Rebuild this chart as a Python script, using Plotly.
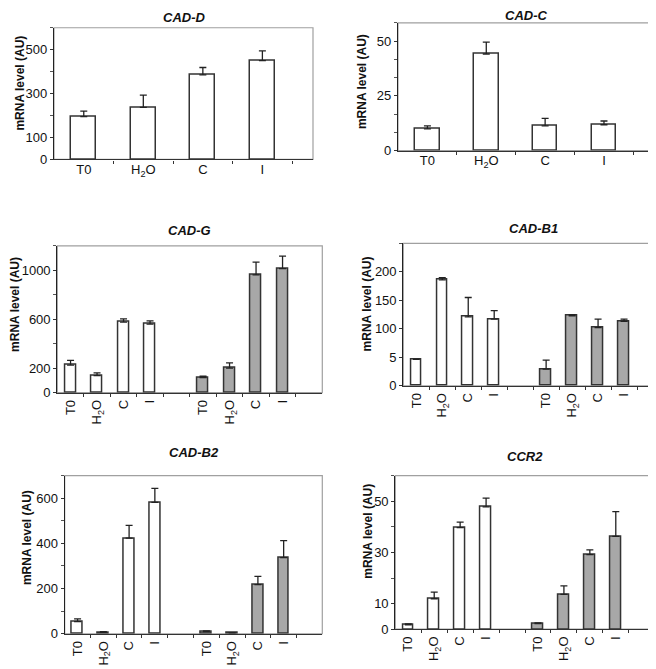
import plotly.graph_objects as go

# condition labels (two series: white = first treatment set, grey = second)
labels4 = ['T0', 'H<sub>2</sub>O', 'C', 'I']

# CAD-D and CAD-C: single series of four bars
cadd_val = [195, 237, 385, 450]
cadd_err = [25, 56, 34, 45]
cadc_val = [9.9, 44.1, 11.3, 11.8]
cadc_err = [1.4, 5.4, 3.4, 1.7]

# CAD-G
cadg_white = [225, 139, 576, 560]
cadg_white_err = [38, 22, 27, 27]
cadg_grey = [123, 201, 962, 1013]
cadg_grey_err = [11, 43, 105, 102]

# CAD-B1
cadb1_white = [46.5, 186, 121, 117]
cadb1_white_err = [0, 4, 34, 15]
cadb1_grey = [29, 123, 102, 113]
cadb1_grey_err = [16, 1.5, 15, 4]

# CAD-B2
cadb2_white = [54, 6, 423, 582]
cadb2_white_err = [12, 3, 57, 62]
cadb2_grey = [9, 4, 217, 337]
cadb2_grey_err = [3, 0, 37, 75]

# CCR2
ccr2_white = [1.7, 11.9, 39.7, 47.8]
ccr2_white_err = [0.4, 2.6, 2.1, 3.4]
ccr2_grey = [2.2, 13.6, 29.1, 36.3]
ccr2_grey_err = [0.3, 3.3, 1.9, 9.6]

FONT = 'Arial, Liberation Sans, sans-serif'
EDGE = '#333333'
WHITE = '#ffffff'
GREY = '#a8a8a8'
W, H = 656, 669

fig = go.Figure()


def px(x0, x1, y0, y1):
    # pixel box -> paper domains
    return [x0 / W, x1 / W], [1 - y1 / H, 1 - y0 / H]


def add_bars(n, xs, vals, errs, fill):
    fig.add_trace(go.Bar(
        x=xs, y=vals, width=0.42,
        marker=dict(color=fill, line=dict(color=EDGE, width=1.5)),
        error_y=dict(type='data', array=errs, arrayminus=[0] * len(errs),
                     symmetric=False, color='#222', thickness=1.3, width=3.5),
        xaxis='x' + n, yaxis='y' + n, showlegend=False))


panels = [
    # name, pixel box, y range, labelled y ticks, their text, minor y ticks,
    # grouped, title y, y-title x,y
    ('CAD-D', (46, 305, 20, 153.3), [0, 600], [0, 100, 300, 500],
     ['0', '100', '300', '500'], [200, 400, 600], False, 9.5, (12, 76.5)),
    ('CAD-C', (390, 646, 15, 144.3), [0, 58.34], [0, 25, 50],
     ['0', '25', '50'], [25 / 3, 50 / 3, 100 / 3, 125 / 3, 175 / 3], False, 8, (354, 75)),
    ('CAD-G', (49.3, 314.3, 240.7, 389.3), [0, 1200], [0, 200, 600, 1000],
     ['0', '200', '600', '1000'], [400, 800, 1200], True, 225, (7.5, 300)),
    ('CAD-B1', (395.3, 655, 238.3, 382.3), [0, 250], [0, 50, 100, 150, 200],
     ['0', '5', '100', '150', '200'], [250], True, 223.5, (359, 300)),
    ('CAD-B2', (56.7, 314.3, 473.3, 633.3), [0, 700], [0, 200, 400, 600],
     ['0', '200', '400', '600'], [100, 300, 500, 700], True, 449.5, (19, 536.5)),
    ('CCR2', (387.3, 646.7, 473.3, 628.7), [0, 60], [0, 10, 30, 50],
     ['0', '10', '30', '50'], [20, 40, 60], True, 453.5, (360, 530)),
]

data = [
    (cadd_val, cadd_err, None, None),
    (cadc_val, cadc_err, None, None),
    (cadg_white, cadg_white_err, cadg_grey, cadg_grey_err),
    (cadb1_white, cadb1_white_err, cadb1_grey, cadb1_grey_err),
    (cadb2_white, cadb2_white_err, cadb2_grey, cadb2_grey_err),
    (ccr2_white, ccr2_white_err, ccr2_grey, ccr2_grey_err),
]

layout = {}
annotations = []
shapes = []
for i, (panel, (w, we, g, ge)) in enumerate(zip(panels, data), start=1):
    title, box, yr, yvals, ytext, yminor, grouped, ty, (yx, yy) = panel
    n = '' if i == 1 else str(i)
    xd, yd = px(*box)
    if grouped:
        add_bars(n, [0, 1, 2, 3], w, we, WHITE)
        add_bars(n, [5, 6, 7, 8], g, ge, GREY)
        xvals = [0, 1, 2, 3, 5, 6, 7, 8]
        xtext = labels4 * 2
        xr = [-0.5, 9.5]
        minor_x = [k + 0.5 for k in range(9)]
        angle = -90
        standoff = 1
    else:
        add_bars(n, [0, 1, 2, 3], w, we, WHITE)
        xvals = [0, 1, 2, 3]
        xtext = labels4
        xr = [-0.5, 3.85]
        minor_x = [0.5, 1.5, 2.5, 3.5]
        angle = 0
        standoff = -2
    layout['xaxis' + n] = dict(
        domain=xd, range=xr, anchor='y' + n, tickmode='array',
        tickvals=xvals, ticktext=xtext, tickangle=angle, ticks='',
        ticklabelstandoff=standoff,
        showline=True, linecolor='#333', linewidth=1.2, showgrid=False,
        zeroline=False, fixedrange=True,
        tickfont=dict(family=FONT, size=13, color='#111'),
        minor=dict(tickmode='array', tickvals=minor_x, ticks='outside',
                   ticklen=3, tickcolor='#333', tickwidth=1))
    layout['yaxis' + n] = dict(
        domain=yd, range=yr, anchor='x' + n, tickmode='array',
        tickvals=yvals, ticktext=ytext, ticks='outside', ticklen=3,
        tickcolor='#333', showline=True, linecolor='#222', linewidth=1.2,
        showgrid=False, zeroline=False, fixedrange=True,
        tickfont=dict(family=FONT, size=13, color='#111'),
        minor=dict(tickmode='array', tickvals=yminor, ticks='outside',
                   ticklen=3, tickcolor='#555', tickwidth=1))
    shapes.append(dict(type='rect', xref='x' + n + ' domain', yref='y' + n + ' domain',
                       x0=0, x1=1, y0=0, y1=1, line=dict(color='#a0a0a0', width=1.2),
                       layer='below'))
    annotations.append(dict(
        text='<b><i>' + title + '</i></b>', xref='x' + n + ' domain', yref='paper',
        x=0.5, y=1 - ty / H, yanchor='middle', showarrow=False,
        font=dict(family=FONT, size=13, color='#111')))
    annotations.append(dict(
        text='<b>mRNA level (AU)</b>', xref='paper', yref='paper',
        x=yx / W, y=1 - yy / H, xanchor='center', yanchor='middle',
        textangle=-90, showarrow=False,
        font=dict(family=FONT, size=12, color='#111')))

fig.update_layout(
    **layout,
    width=W, height=H,
    margin=dict(l=0, r=0, t=0, b=0),
    paper_bgcolor='white', plot_bgcolor='white',
    barmode='overlay', bargap=0,
    shapes=shapes, annotations=annotations,
    font=dict(family=FONT),
)

fig.write_html('out.html')
